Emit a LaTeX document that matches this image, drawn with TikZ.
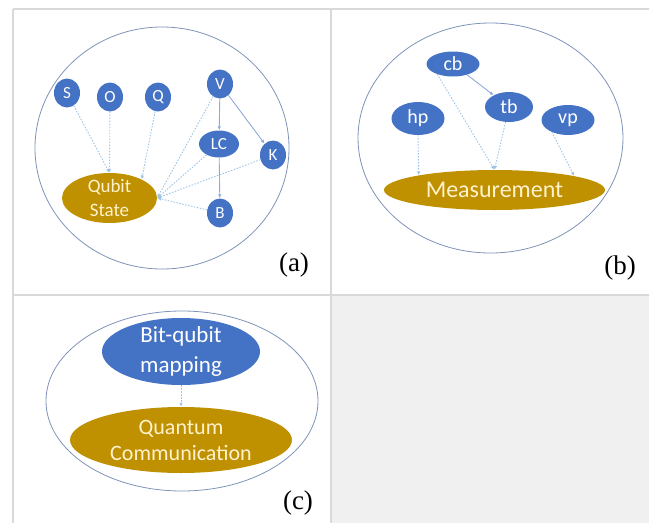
\documentclass[tikz,border=0pt]{standalone}
\usepackage{fontspec}
\setmainfont{Carlito}
\newfontfamily\tnr{Liberation Serif}
\usetikzlibrary{shapes.geometric,arrows.meta}
\definecolor{nodeblue}{HTML}{4472C4}
\definecolor{nodegold}{HTML}{BF9000}
\definecolor{cream}{HTML}{FFF2CC}
\definecolor{gridgray}{HTML}{D9D9D9}
\definecolor{panelgray}{HTML}{F0F0F0}
\definecolor{rimblue}{HTML}{7F93B8}
\definecolor{dashblue}{HTML}{9DC3E6}
\definecolor{solidblue}{HTML}{8FAADC}
\tikzset{
  gridline/.style={draw=gridgray, line width=2.4pt},
  rim/.style={ellipse, draw=rimblue, line width=0.8pt, inner sep=0pt},
  bnode/.style={ellipse, fill=nodeblue, text=white, inner sep=0pt},
  gnode/.style={ellipse, fill=nodegold, text=cream, inner sep=0pt},
  dsh/.style={draw=dashblue, line width=0.9pt, dash pattern=on 1.5pt off 1.5pt, -{Latex[length=4pt,width=3.5pt]}},
  sld/.style={draw=solidblue, line width=0.9pt, -{Latex[length=4pt,width=3.5pt]}},
  tag/.style={font=\tnr\fontsize{27}{30}\selectfont, inner sep=0pt},
}
\begin{document}
\begin{tikzpicture}[x=1pt,y=-1pt]
\useasboundingbox (0,0) rectangle (649,523);
% panel grid
\fill[panelgray] (332,296) rectangle (649,523);
\draw[gridline] (13,9) -- (649,9);
\draw[gridline] (13,9) -- (13,523);
\draw[gridline] (331,9) -- (331,523);
\draw[gridline] (13,295) -- (649,295);

% ---------- panel (a)
\node[rim, minimum width=254pt, minimum height=242pt] (ra) at (162,148) {};
\tikzset{lt/.style={font=\fontsize{17}{20}\selectfont}}
\node[bnode, lt, minimum width=26pt, minimum height=29pt] (S) at (67,93) {S};
\node[bnode, lt, minimum width=26pt, minimum height=29pt] (O) at (110,97) {O};
\node[bnode, lt, minimum width=26pt, minimum height=29pt] (Q) at (158,97) {Q};
\node[bnode, lt, minimum width=26pt, minimum height=29pt] (V) at (220,84) {V};
\node[bnode, lt, minimum width=40pt, minimum height=27pt] (LC) at (219,144) {LC};
\node[bnode, lt, minimum width=26pt, minimum height=29pt] (K) at (273,155) {K};
\node[bnode, lt, minimum width=26pt, minimum height=29pt] (B) at (220,213) {B};
\node[gnode, minimum width=95pt, minimum height=50pt,
      label={[text=cream, align=center, font=\fontsize{19}{24}\selectfont]center:Qubit\\State}] (QS) at (109.5,198) {};
\draw[dsh] (S) -- (QS.north);
\draw[dsh] (O) -- (QS.north);
\draw[dsh] (Q) -- (QS.30);
\draw[dsh] (V) -- (QS.east);
\draw[dsh] (LC) -- (QS.east);
\draw[dsh] (K) -- (QS.east);
\draw[dsh] (B) -- (QS.east);
\draw[sld] (V) -- (LC);
\draw[sld] (V) -- (K);
\draw[sld] (LC) -- (B);
\node[tag] (la) at (294,265) {(a)};

% ---------- panel (b)
\node[rim, minimum width=265pt, minimum height=230pt] (rb) at (490.5,138) {};
\tikzset{mt/.style={font=\fontsize{20}{24}\selectfont}}
\node[bnode, mt, minimum width=53pt, minimum height=25pt] (cb) at (453,64) {cb};
\node[bnode, mt, minimum width=53pt, minimum height=33pt] (hp) at (418,118.5) {hp};
\node[bnode, mt, minimum width=48pt, minimum height=30pt] (tb) at (509,107) {tb};
\node[bnode, mt, minimum width=53pt, minimum height=30pt] (vp) at (568,120) {vp};
\node[gnode, font=\fontsize{24}{28}\selectfont, minimum width=221pt, minimum height=40pt] (M) at (494.5,190) {Measurement};
\draw[sld] (cb) -- (tb);
\draw[dsh] (cb.213) -- (M.north);
\draw[dsh] (hp.south) -- (M.169.5);
\draw[dsh] (tb) -- (M.north);
\draw[dsh] (vp.217) -- (M.10.2);
\node[tag] (lb) at (620,268) {(b)};

% ---------- panel (c)
\node[rim, minimum width=272pt, minimum height=180pt] (rc) at (182,401) {};
\node[bnode, minimum width=158pt, minimum height=67pt,
      label={[text=white, align=center, font=\fontsize{23}{30}\selectfont]center:Bit-qubit\\mapping}] (BQ) at (181,351.5) {};
\node[gnode, minimum width=222pt, minimum height=66pt,
      label={[text=cream, align=center, font=\fontsize{22}{26}\selectfont]center:Quantum\\Communication}] (QC) at (181,440) {};
\draw[dsh] (BQ) -- (QC);
\node[tag] (lc) at (298,503) {(c)};
\end{tikzpicture}
\end{document}
